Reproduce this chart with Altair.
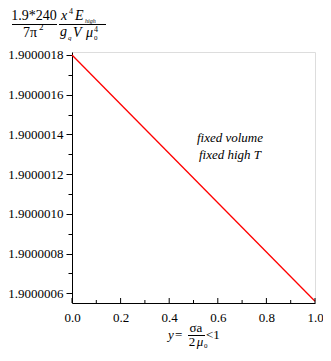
import altair as alt
import pandas as pd

# ---- data ----
x_vals = [0.0, 1.0]
y_vals = [1.9000018, 1.90000056]

y_major = [1.9000006, 1.9000008, 1.9000010, 1.9000012, 1.9000014, 1.9000016, 1.9000018]
y_minor = [1.9000007, 1.9000009, 1.9000011, 1.9000013, 1.9000015, 1.9000017]
x_major = [0.0, 0.2, 0.4, 0.6, 0.8, 1.0]
x_minor = [0.1, 0.3, 0.5, 0.7, 0.9]

note_lines = ["fixed volume", "fixed high T"]

SERIF = "Liberation Serif"
W, H = 243, 251
OX, OY = 72, 52  # page position of plot origin

line_df = pd.DataFrame({"x": x_vals, "y": y_vals})
xs = alt.Scale(domain=[0, 1], nice=False, zero=False)
ys = alt.Scale(domain=[1.900000551, 1.900001815], nice=False, zero=False)

line = alt.Chart(line_df).mark_line(color="#ff0000", strokeWidth=1.3).encode(
    x=alt.X("x:Q", scale=xs, axis=alt.Axis(
        values=x_major, format=".1f", ticks=False, grid=False, title=None,
        labelPadding=8, domainColor="black", labelColor="black",
        labelFont=SERIF, labelFontSize=13, labelFlush=False, labelOverlap=False)),
    y=alt.Y("y:Q", scale=ys, axis=alt.Axis(
        values=sorted(y_major + y_minor), grid=False, title=None,
        labelExpr="round(datum.value*1e7) % 2 == 0 ? format(datum.value, '.7f') : ''",
        tickSize=alt.condition("round(datum.value*1e7) % 2 == 0", alt.value(6), alt.value(4)),
        labelPadding=3, domainColor="black", tickColor="black", labelColor="black",
        labelFont=SERIF, labelFontSize=13, labelFlush=False, labelOverlap=False)),
)

xticks = alt.Chart(pd.DataFrame({"t": x_major})).mark_rule(color="black").encode(
    x=alt.X("t:Q", scale=xs), y=alt.value(H), y2=alt.value(H - 5))
xticks_minor = alt.Chart(pd.DataFrame({"t": x_minor})).mark_rule(color="black").encode(
    x=alt.X("t:Q", scale=xs), y=alt.value(H), y2=alt.value(H - 3))

one = pd.DataFrame({"k": [0]})


def txt(s, px, py, size=13, italic=False, align="left"):
    return alt.Chart(one).mark_text(
        text=s, font=SERIF, fontSize=size, color="black",
        fontStyle="italic" if italic else "normal",
        align=align, baseline="alphabetic",
    ).encode(x=alt.value(px - OX), y=alt.value(py - OY))


def bar(x1, x2, py):
    return alt.Chart(one).mark_rule(color="black", strokeWidth=1).encode(
        x=alt.value(x1 - OX), x2=alt.value(x2 - OX), y=alt.value(py - OY))


title_parts = [
    txt("1.9*240", 34, 20, 14, align="center"),
    bar(12, 57, 24.5),
    txt("7π", 30, 37, 14, align="center"),
    txt("2", 39, 30, 9),
    txt("x", 61, 20, 14, italic=True),
    txt("4", 69, 14, 8),
    txt("E", 75, 20, 14, italic=True),
    txt("high", 85, 23, 6, italic=True),
    bar(59, 106, 24.5),
    txt("g", 60, 36, 14, italic=True),
    txt("q", 68, 40, 7, italic=True),
    txt("V", 73, 37, 14, italic=True),
    txt("μ", 86, 37, 14, italic=True),
    txt("0", 94, 40, 7),
    txt("4", 94, 32, 8),
]

xtitle_parts = [
    txt("y", 168, 339, 13, italic=True),
    txt("=", 175, 339, 13),
    txt("σa", 196, 332, 13, align="center"),
    bar(188, 205, 335.5),
    txt("2", 192, 346, 13, align="center"),
    txt("μ", 200, 346, 13, italic=True, align="center"),
    txt("0", 204, 348, 7),
    txt("<1", 206, 339, 13),
]

note = [
    txt(note_lines[0], 230, 142, 13, italic=True, align="center"),
    txt(note_lines[1], 230, 159, 13, italic=True, align="center"),
]

chart = alt.layer(
    line, xticks, xticks_minor, *title_parts, *xtitle_parts, *note
).properties(
    width=W, height=H,
    autosize=alt.AutoSizeParams(type="none"),
    padding={"left": OX - 8, "top": OY - 8, "right": 8, "bottom": 50},
).configure_view(stroke=None).configure(background="white")

chart.save("out.html", embed_options={"renderer": "svg", "actions": False})
